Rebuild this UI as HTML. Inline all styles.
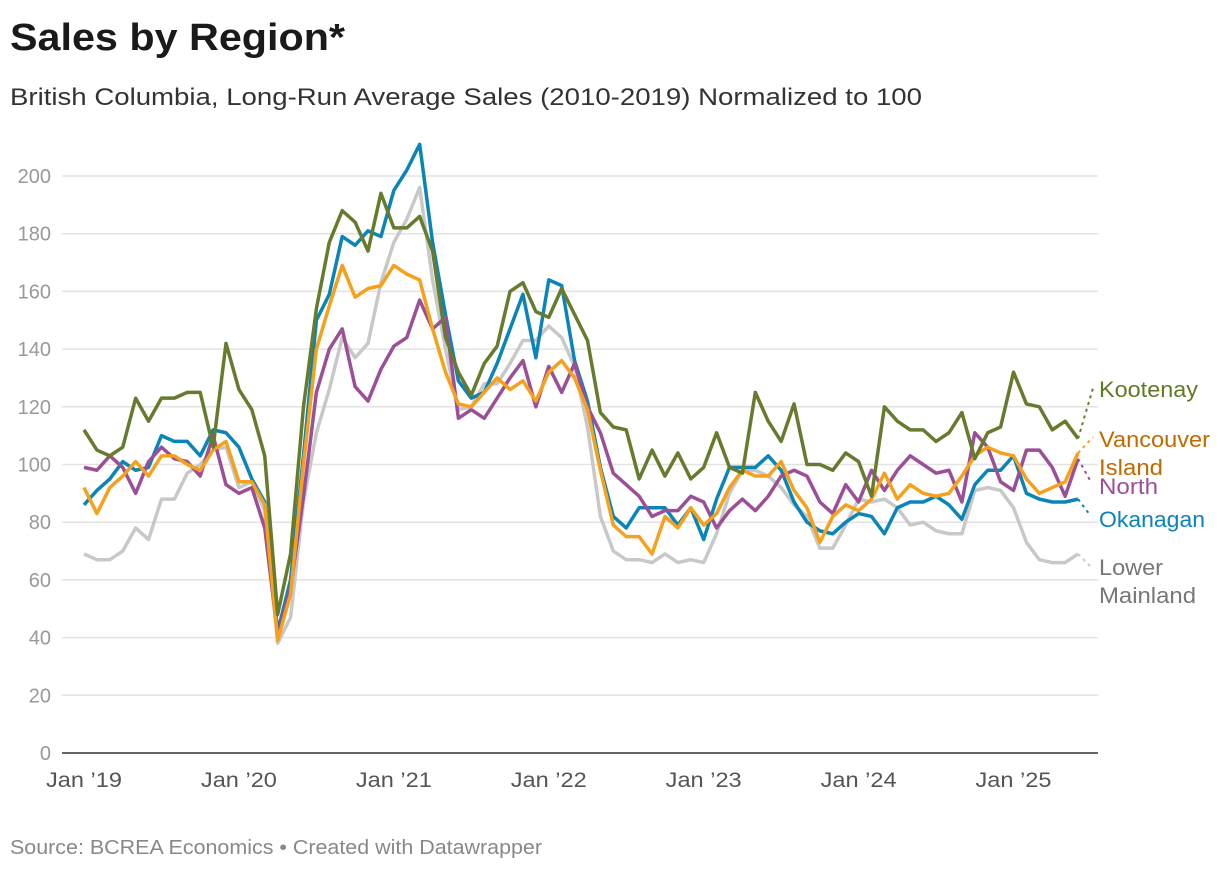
<!DOCTYPE html>
<html><head><meta charset="utf-8"><style>
body{margin:0;background:#fff;font-family:"Liberation Sans",sans-serif;}
#wrap{position:relative;width:1220px;height:870px;overflow:hidden}
</style></head><body>
<div id="wrap">
<svg id="chart" width="1220" height="870" style="position:absolute;left:0;top:0">
<text x="10" y="50" font-size="38" font-weight="bold" fill="#1a1a1a" textLength="335" lengthAdjust="spacingAndGlyphs">Sales by Region*</text>
<text x="10" y="105" font-size="24" fill="#333" textLength="912" lengthAdjust="spacingAndGlyphs">British Columbia, Long-Run Average Sales (2010-2019) Normalized to 100</text>
<text x="10" y="854" font-size="20" fill="#888" textLength="532" lengthAdjust="spacingAndGlyphs">Source: BCREA Economics • Created with Datawrapper</text>
<g id="grid"></g><g id="lines"></g><g id="labels"></g>
</svg>
</div>
<script>
const yTicks=[0,20,40,60,80,100,120,140,160,180,200];
const xTickLabels=["Jan ’19","Jan ’20","Jan ’21","Jan ’22","Jan ’23","Jan ’24","Jan ’25"];
const kootenay=[112,105,103,106,123,115,123,123,125,125,106,142,126,119,103,48,69,120,154,177,188,184,174,194,182,182,186,174,144,132,124,135,141,160,163,153,151,161,152,143,118,113,112,95,105,96,104,95,99,111,99,97,125,115,108,121,100,100,98,104,101,89,120,115,112,112,108,111,118,102,111,113,132,121,120,112,115,109];
const vancouverIsland=[92,83,92,96,101,96,103,103,100,98,105,108,94,94,86,39,55,100,140,155,169,158,161,162,169,166,164,147,132,121,120,125,130,126,129,122,132,136,130,119,98,79,75,75,69,82,78,85,79,83,92,98,96,96,101,91,85,73,82,86,84,88,97,88,93,90,89,90,96,103,106,104,103,95,90,92,94,104];
const north=[99,98,103,99,90,101,106,102,101,96,110,93,90,92,78,41,57,89,125,140,147,127,122,133,141,144,157,147,151,116,119,116,123,130,136,120,134,125,135,120,111,97,93,89,82,84,84,89,87,78,84,88,84,89,96,98,96,87,83,93,87,98,91,98,103,100,97,98,87,111,106,94,91,105,105,99,89,102];
const okanagan=[86,91,95,101,98,99,110,108,108,103,112,111,106,95,87,42,60,103,150,159,179,176,181,179,195,202,211,177,152,129,123,125,135,147,159,137,164,162,136,122,99,82,78,85,85,85,79,85,74,88,99,99,99,103,98,87,80,77,76,80,83,82,76,85,87,87,89,86,81,93,98,98,103,90,88,87,87,88];
const lowerMainland=[69,67,67,70,78,74,88,88,97,100,105,106,92,94,84,38,47,87,111,126,144,137,142,163,177,185,196,164,140,119,120,128,128,135,143,143,148,144,134,113,82,70,67,67,66,69,66,67,66,76,90,98,98,96,92,86,82,71,71,79,88,87,88,85,79,80,77,76,76,91,92,91,85,73,67,66,66,69];
const seriesNames=["Lower Mainland","Okanagan","North","Vancouver Island","Kootenay"];
const seriesColors=["#c8c8c8","#0b84b8","#9b4f96","#f5a11c","#677b2e"];
const seriesData=[lowerMainland,okanagan,north,vancouverIsland,kootenay];
const NS="http://www.w3.org/2000/svg";
const x=i=>84+i*12.91;
const y=v=>753-v*2.885;
const g=document.getElementById('grid'),L=document.getElementById('lines'),lab=document.getElementById('labels');
function mk(t,a,p){const e=document.createElementNS(NS,t);for(const k in a)e.setAttribute(k,a[k]);p.appendChild(e);return e;}
yTicks.forEach(v=>{
  if(v>0){const ln=mk('line',{x1:62,x2:1098,y1:y(v),y2:y(v),stroke:'#e3e3e3','stroke-width':1.5},g);
  
  }
  const t=mk('text',{x:51,y:y(v)+7,'text-anchor':'end','font-size':20,fill:'#999'},g);t.textContent=v;
  
  
});
const ax=mk('line',{x1:62,x2:1098,y1:753,y2:753,stroke:'#333','stroke-width':1.5},g);


xTickLabels.forEach((s,k)=>{const t=mk('text',{x:x(k*12),y:787,'text-anchor':'middle','font-size':21,fill:'#555',textLength:76,lengthAdjust:'spacingAndGlyphs'},g);t.textContent=s;
  
  });
const ends=[[1092,568],[1090,515],[1091,482],[1093,437],[1093,388]];
seriesData.forEach((d,s)=>{
  const p=mk('polyline',{points:d.map((v,i)=>x(i)+','+y(v)).join(' '),fill:'none',stroke:seriesColors[s],'stroke-width':3.5,'stroke-linejoin':'round'},L);
  
  
  const n=d.length-1;
  const dl=mk('line',{x1:x(n),y1:y(d[n]),x2:ends[s][0],y2:ends[s][1],stroke:seriesColors[s],'stroke-width':2,'stroke-dasharray':'3,4'},L);
  
  
});
const labelDefs=[["Kootenay","#5f7a25",397,99],["Vancouver","#c06a00",447,111],["Island","#c06a00",475,64],["North","#9b4f96",494,59],["Okanagan","#0b84b8",527,106],["Lower","#777",575,64],["Mainland","#777",603,97]];
labelDefs.forEach(l=>{const t=mk('text',{x:1099,y:l[2],'font-size':22,fill:l[1],textLength:l[3],lengthAdjust:'spacingAndGlyphs'},lab);t.textContent=l[0];
  
  });
</script>
</body></html>
